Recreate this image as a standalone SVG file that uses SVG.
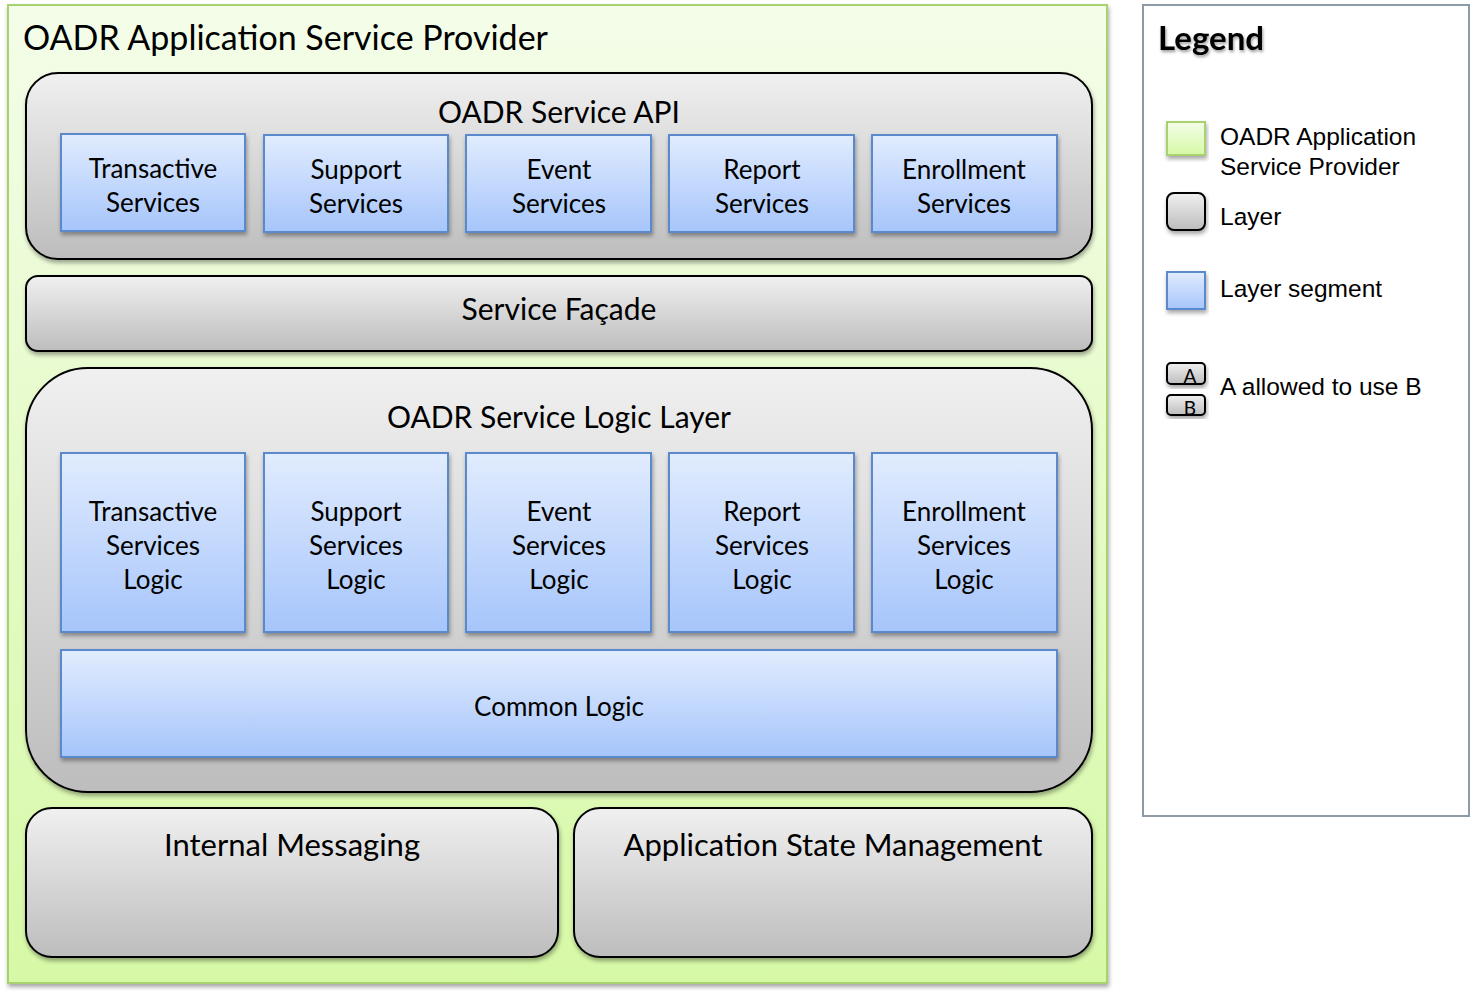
<svg xmlns="http://www.w3.org/2000/svg" width="1478" height="994" viewBox="0 0 1478 994">
<defs>
<linearGradient id="gGreen" x1="0" y1="0" x2="0" y2="1"><stop offset="0" stop-color="#f4fde9"/><stop offset="1" stop-color="#d6f9a6"/></linearGradient>
<linearGradient id="gGray" x1="0" y1="0" x2="0" y2="1"><stop offset="0" stop-color="#f0f0f0"/><stop offset="1" stop-color="#bdbdbd"/></linearGradient>
<linearGradient id="gBlue" x1="0" y1="0" x2="0" y2="1"><stop offset="0" stop-color="#e1ecfe"/><stop offset="1" stop-color="#a6c5fb"/></linearGradient>
<filter id="sh" x="-10%" y="-10%" width="120%" height="130%"><feDropShadow dx="1" dy="3" stdDeviation="2" flood-color="#000" flood-opacity="0.35"/></filter>
<filter id="tsh" x="-10%" y="-20%" width="120%" height="150%"><feDropShadow dx="1" dy="2" stdDeviation="1.5" flood-color="#000" flood-opacity="0.4"/></filter>
</defs>
<style>
.green{fill:url(#gGreen);stroke:#a8d16f;stroke-width:2}
.layer{fill:url(#gGray);stroke:#000;stroke-width:2;filter:url(#sh)}
.seg{fill:url(#gBlue);stroke:#5a8acb;stroke-width:2;filter:url(#sh)}
.t{font-family:Lato,"Open Sans","Liberation Sans",sans-serif;fill:#000;text-anchor:middle}
.h{font-size:30px}
.s{font-size:26px}
.lg{font-family:"Liberation Sans",Arial,sans-serif;font-size:24.5px;fill:#000}
</style>

<g id="provider">
<rect class="green" x="8" y="5" width="1099" height="978" filter="url(#sh)"/>
<text class="t" x="23" y="50" style="font-size:34px;text-anchor:start">OADR Application Service Provider</text>
</g>

<g id="service-api">
<rect class="layer" x="26" y="73" width="1066" height="186" rx="32"/>
<text class="t h" x="559" y="123">OADR Service API</text>
</g>
<g id="api-transactive"><rect class="seg" x="61" y="134" width="184" height="97"/><text class="t s" x="153" y="178">Transactive</text><text class="t s" x="153" y="212">Services</text></g>
<g id="api-support"><rect class="seg" x="264" y="135" width="184" height="97"/><text class="t s" x="356" y="179">Support</text><text class="t s" x="356" y="213">Services</text></g>
<g id="api-event"><rect class="seg" x="466" y="135" width="185" height="97"/><text class="t s" x="559" y="179">Event</text><text class="t s" x="559" y="213">Services</text></g>
<g id="api-report"><rect class="seg" x="669" y="135" width="185" height="97"/><text class="t s" x="762" y="179">Report</text><text class="t s" x="762" y="213">Services</text></g>
<g id="api-enrollment"><rect class="seg" x="872" y="135" width="185" height="97"/><text class="t s" x="964" y="179">Enrollment</text><text class="t s" x="964" y="213">Services</text></g>

<g id="facade">
<rect class="layer" x="26" y="276" width="1066" height="75" rx="12"/>
<text class="t h" x="559" y="320">Service Façade</text>
</g>

<g id="logic-layer">
<rect class="layer" x="26" y="368" width="1066" height="424" rx="62"/>
<text class="t h" x="559" y="428">OADR Service Logic Layer</text>
</g>
<g id="logic-transactive"><rect class="seg" x="61" y="453" width="184" height="179"/><text class="t s" x="153" y="521">Transactive</text><text class="t s" x="153" y="555">Services</text><text class="t s" x="153" y="589">Logic</text></g>
<g id="logic-support"><rect class="seg" x="264" y="453" width="184" height="179"/><text class="t s" x="356" y="521">Support</text><text class="t s" x="356" y="555">Services</text><text class="t s" x="356" y="589">Logic</text></g>
<g id="logic-event"><rect class="seg" x="466" y="453" width="185" height="179"/><text class="t s" x="559" y="521">Event</text><text class="t s" x="559" y="555">Services</text><text class="t s" x="559" y="589">Logic</text></g>
<g id="logic-report"><rect class="seg" x="669" y="453" width="185" height="179"/><text class="t s" x="762" y="521">Report</text><text class="t s" x="762" y="555">Services</text><text class="t s" x="762" y="589">Logic</text></g>
<g id="logic-enrollment"><rect class="seg" x="872" y="453" width="185" height="179"/><text class="t s" x="964" y="521">Enrollment</text><text class="t s" x="964" y="555">Services</text><text class="t s" x="964" y="589">Logic</text></g>
<g id="common-logic"><rect class="seg" x="61" y="650" width="996" height="107"/><text class="t s" x="559" y="716">Common Logic</text></g>

<g id="internal-messaging">
<rect class="layer" x="26" y="808" width="532" height="149" rx="26"/>
<text class="t" x="292" y="856" style="font-size:31px">Internal Messaging</text>
</g>
<g id="app-state">
<rect class="layer" x="574" y="808" width="518" height="149" rx="26"/>
<text class="t" x="833" y="856" style="font-size:31px">Application State Management</text>
</g>

<g id="connectors"></g>

<g id="legend">
<rect x="1143" y="5" width="326" height="811" fill="#fff" stroke="#8e9aa6" stroke-width="2"/>
<text x="1158" y="50" style="font-family:Lato,'Open Sans',sans-serif;font-weight:bold;font-size:33px" filter="url(#tsh)">Legend</text>
<rect class="green" x="1167" y="122" width="38" height="33" filter="url(#sh)"/>
<text class="lg" x="1220" y="145">OADR Application</text>
<text class="lg" x="1220" y="175">Service Provider</text>
<rect class="layer" x="1167" y="193" width="38" height="37" rx="7"/>
<text class="lg" x="1220" y="225">Layer</text>
<rect class="seg" x="1167" y="272" width="38" height="37"/>
<text class="lg" x="1220" y="297">Layer segment</text>
<rect class="layer" x="1167" y="363" width="38" height="21" rx="4"/>
<text x="1190" y="383" style="font-family:Lato,sans-serif;font-size:19px;text-anchor:middle">A</text>
<rect class="layer" x="1167" y="395" width="38" height="20" rx="4"/>
<text x="1190" y="415" style="font-family:Lato,sans-serif;font-size:19px;text-anchor:middle">B</text>
<text class="lg" x="1220" y="395">A allowed to use B</text>
</g>
</svg>
